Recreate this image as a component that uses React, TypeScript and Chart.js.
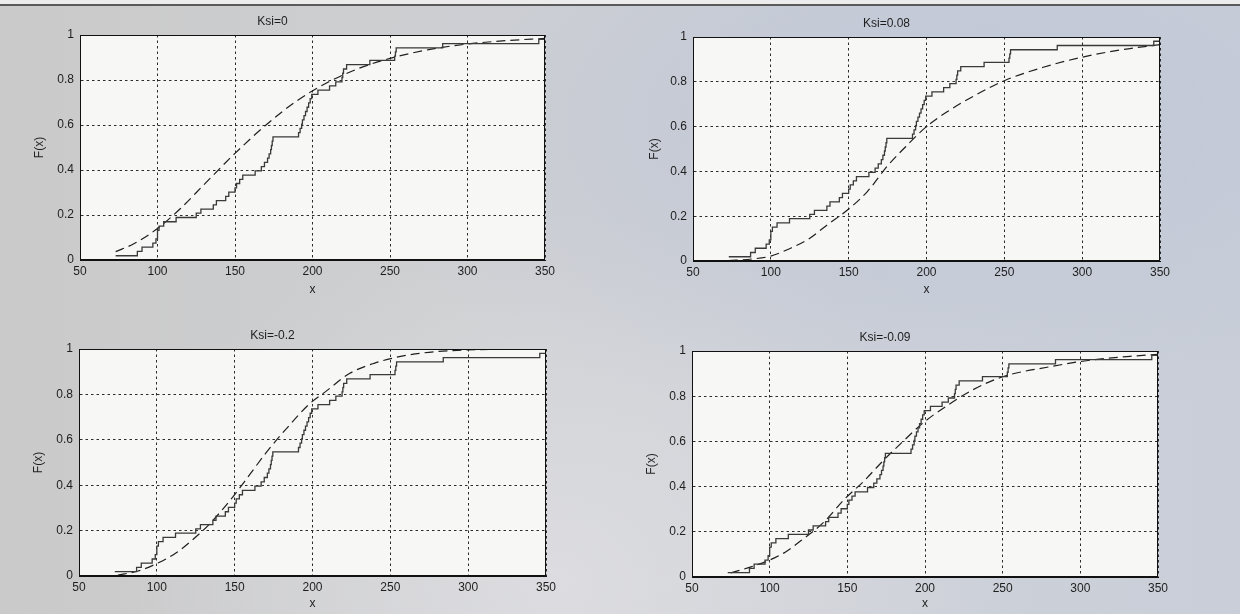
import React, { useEffect, useRef } from 'react';
import { Chart, registerables } from 'chart.js';

Chart.register(...registerables);
Chart.defaults.font.family = '"Liberation Sans", Arial, Helvetica, sans-serif';

// Observed sample, sorted ascending
const sampleX = [
  73, 87, 90, 97, 99, 100, 100, 101, 104, 112,
  125, 128, 136, 138, 144, 146, 150, 151, 153, 155,
  163, 167, 169, 171, 172, 173, 173.5, 174, 174.5, 191,
  192, 193, 193.5, 194.5, 195.5, 196.5, 197.5, 198.5, 199.5, 203.5,
  211, 215, 219, 219.5, 220, 222, 237, 253, 253.5, 254,
  284, 346, 350,
];
// Empirical CDF level reached at each observation
const ecdfY = [
  0.019, 0.038, 0.057, 0.075, 0.094, 0.113, 0.132, 0.151, 0.17, 0.189,
  0.208, 0.226, 0.245, 0.264, 0.283, 0.302, 0.321, 0.34, 0.358, 0.377,
  0.396, 0.415, 0.434, 0.453, 0.472, 0.491, 0.509, 0.528, 0.547, 0.566,
  0.585, 0.604, 0.623, 0.642, 0.66, 0.679, 0.698, 0.717, 0.736, 0.755,
  0.774, 0.792, 0.811, 0.83, 0.849, 0.868, 0.887, 0.906, 0.925, 0.943,
  0.962, 0.981, 1.0,
];

// Fitted GEV distribution functions
const fitXKsi0 = [73, 85, 100, 115, 130, 150, 170, 190, 210, 230, 250, 275, 300, 325, 350];
const fitYKsi0 = [0.037, 0.073, 0.14, 0.23, 0.335, 0.474, 0.6, 0.708, 0.79, 0.852, 0.896, 0.935, 0.96, 0.975, 0.985];

const fitXKsi008 = [73, 88, 100, 112, 124, 136, 150, 162, 175, 188, 200, 213, 230, 250, 275, 300, 325, 350];
const fitYKsi008 = [0.002, 0.009, 0.022, 0.055, 0.097, 0.16, 0.232, 0.31, 0.425, 0.52, 0.6, 0.665, 0.735, 0.805, 0.865, 0.91, 0.943, 0.966];

const fitXKsiM02 = [75, 88, 100, 112, 123, 134, 149, 160, 171, 184, 198, 208, 224, 240, 255, 270, 290, 320, 350];
const fitYKsiM02 = [0.004, 0.022, 0.055, 0.1, 0.16, 0.23, 0.35, 0.45, 0.55, 0.655, 0.758, 0.81, 0.893, 0.938, 0.965, 0.982, 0.993, 0.999, 1.0];

const fitXKsiM009 = [75, 88, 100, 110, 120, 134, 149, 160, 173, 184, 199, 212, 231, 250, 280, 305, 333, 350];
const fitYKsiM009 = [0.018, 0.045, 0.075, 0.11, 0.16, 0.237, 0.35, 0.42, 0.514, 0.588, 0.683, 0.748, 0.829, 0.886, 0.93, 0.958, 0.977, 0.985];

const panelTitles = ['Ksi=0', 'Ksi=0.08', 'Ksi=-0.2', 'Ksi=-0.09'];
const xTicks = [50, 100, 150, 200, 250, 300, 350];
const xTickLabels = ['50', '100', '150', '200', '250', '300', '350'];
const yTicks = [0, 0.2, 0.4, 0.6, 0.8, 1];
const yTickLabels = ['0', '0.2', '0.4', '0.6', '0.8', '1'];
const xAxisTitle = 'x';
const yAxisTitle = 'F(x)';

// Layout of each subplot (plot area edges in page pixels)
const Y_AXIS_W = 80;
const TOP_BLOCK = 35;
const X_AXIS_H = 40;
const RIGHT_PAD = 20;
const TEXT = '#1e1e1e';
const PLOT_BG = '#f7f7f6';

type Box = { l: number; t: number; r: number; b: number };
type PanelSpec = {
  title: string;
  fitX: number[];
  fitY: number[];
  box: Box;
  yTitleX: number;
  xTitleGap: number;
};

const panels: PanelSpec[] = [
  { title: panelTitles[0], fitX: fitXKsi0, fitY: fitYKsi0, box: { l: 80, t: 35, r: 545, b: 260 }, yTitleX: 40, xTitleGap: 30 },
  { title: panelTitles[1], fitX: fitXKsi008, fitY: fitYKsi008, box: { l: 693, t: 37, r: 1160, b: 261 }, yTitleX: 42, xTitleGap: 29 },
  { title: panelTitles[2], fitX: fitXKsiM02, fitY: fitYKsiM02, box: { l: 79, t: 349, r: 546, b: 576 }, yTitleX: 40, xTitleGap: 28 },
  { title: panelTitles[3], fitX: fitXKsiM009, fitY: fitYKsiM009, box: { l: 692, t: 351, r: 1158, b: 577 }, yTitleX: 40, xTitleGap: 27 },
];

// Fills the plot area and draws the full box frame around it
const framePlugin = {
  id: 'plotFrame',
  beforeDraw(chart: any) {
    const { ctx, chartArea: a } = chart;
    ctx.save();
    ctx.fillStyle = PLOT_BG;
    ctx.fillRect(a.left, a.top, a.right - a.left, a.bottom - a.top);
    ctx.restore();
  },
  afterDraw(chart: any) {
    const { ctx, chartArea: a } = chart;
    ctx.save();
    ctx.strokeStyle = '#111';
    ctx.lineWidth = 1;
    ctx.setLineDash([]);
    const l = Math.round(a.left) + 0.5;
    const t = Math.round(a.top) + 0.5;
    const r = Math.round(a.right) - 0.5;
    const b = Math.round(a.bottom) - 0.5;
    ctx.strokeRect(l, t, r - l, b - t);
    ctx.restore();
  },
};

function Subplot({ spec }: { spec: PanelSpec }) {
  const ref = useRef<HTMLCanvasElement>(null);
  const { l, t, r, b } = spec.box;
  const width = Y_AXIS_W + (r - l) + RIGHT_PAD;
  const height = TOP_BLOCK + (b - t) + X_AXIS_H;

  useEffect(() => {
    if (!ref.current) return;
    const chart = new Chart(ref.current, {
      type: 'line',
      data: {
        datasets: [
          {
            label: 'empirical',
            data: sampleX.map((x, i) => ({ x, y: ecdfY[i] })),
            stepped: 'before',
            borderColor: '#3a3a3a',
            borderWidth: 1.3,
            pointRadius: 0,
            fill: false,
          },
          {
            label: 'GEV',
            data: spec.fitX.map((x, i) => ({ x, y: spec.fitY[i] })),
            borderColor: '#1f1f1f',
            borderWidth: 1.2,
            borderDash: [9, 5],
            pointRadius: 0,
            cubicInterpolationMode: 'monotone',
            fill: false,
          },
        ],
      },
      options: {
        responsive: false,
        animation: false,
        devicePixelRatio: 1,
        events: [],
        layout: { padding: { left: 0, right: RIGHT_PAD, top: 0, bottom: 0 } },
        plugins: {
          legend: { display: false },
          tooltip: { enabled: false },
          title: {
            display: true,
            text: spec.title,
            color: TEXT,
            font: { size: 12, weight: 'normal' },
            padding: { top: 14, bottom: TOP_BLOCK - 14 - 14.4 },
          },
        },
        scales: {
          x: {
            type: 'linear',
            min: 50,
            max: 350,
            afterBuildTicks: (s: any) => {
              s.ticks = xTicks.map((v) => ({ value: v }));
            },
            afterFit: (s: any) => {
              s.height = X_AXIS_H;
              s.paddingLeft = 0;
              s.paddingRight = 0;
            },
            ticks: {
              padding: 4,
              color: TEXT,
              font: { size: 12 },
              maxRotation: 0,
              callback: (v: any) => xTickLabels[xTicks.indexOf(Number(v))] ?? '',
            },
            grid: { color: '#2c2c2c', lineWidth: 1, drawTicks: false },
            border: { display: true, color: '#111', width: 1, dash: [2.5, 3] },
            title: {
              display: true,
              text: xAxisTitle,
              color: TEXT,
              font: { size: 12 },
              padding: { top: 0, bottom: X_AXIS_H - spec.xTitleGap - 7.2 },
            },
          },
          y: {
            type: 'linear',
            min: 0,
            max: 1,
            afterBuildTicks: (s: any) => {
              s.ticks = yTicks.map((v) => ({ value: v }));
            },
            afterFit: (s: any) => {
              s.width = Y_AXIS_W;
              s.paddingTop = 0;
              s.paddingBottom = 0;
            },
            ticks: {
              padding: 6,
              color: TEXT,
              font: { size: 12 },
              callback: (v: any) => {
                const i = yTicks.findIndex((w) => Math.abs(w - Number(v)) < 1e-9);
                return i >= 0 ? yTickLabels[i] : '';
              },
            },
            grid: { color: '#2c2c2c', lineWidth: 1, drawTicks: false },
            border: { display: true, color: '#111', width: 1, dash: [2.5, 3] },
            title: {
              display: true,
              text: yAxisTitle,
              color: TEXT,
              font: { size: 12 },
              padding: { top: spec.yTitleX - 7.2, bottom: 0 },
            },
          },
        },
      },
      plugins: [framePlugin],
    } as any);
    return () => chart.destroy();
  }, [spec]);

  return (
    <canvas
      ref={ref}
      width={width}
      height={height}
      style={{ position: 'absolute', left: l - Y_AXIS_W, top: t - TOP_BLOCK, width, height }}
    />
  );
}

export default function App() {
  return (
    <div
      style={{
        position: 'absolute',
        left: 0,
        top: 0,
        width: 1240,
        height: 614,
        overflow: 'hidden',
        background:
          'radial-gradient(ellipse at 75% 20%, rgba(190,198,214,0.9) 0%, rgba(190,198,214,0) 45%),' +
          'radial-gradient(ellipse at 45% 95%, rgba(222,222,226,0.9) 0%, rgba(222,222,226,0) 45%),' +
          'linear-gradient(90deg, #cacaca 0%, #cfd0d3 45%, #cdd1d9 75%, #c9ced8 100%)',
      }}
    >
      <div style={{ position: 'absolute', left: 0, top: 0, width: 1240, height: 4, background: '#ececec' }} />
      <div style={{ position: 'absolute', left: 0, top: 4, width: 1240, height: 2, background: '#5a5a5a' }} />
      {panels.map((p) => (
        <Subplot key={p.title} spec={p} />
      ))}
    </div>
  );
}
